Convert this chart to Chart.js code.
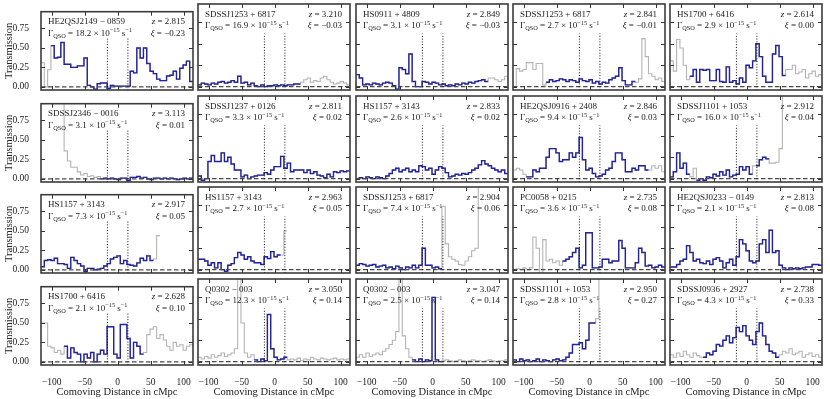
<!DOCTYPE html>
<html>
<head>
<meta charset="utf-8">
<script src="https://cdn.jsdelivr.net/npm/chart.js@4.4.1/dist/chart.umd.min.js"></script>
<style>
  body { margin: 0; background: #fff; }
  #wrap { position: relative; width: 830px; height: 399px; overflow: hidden; }
  #wrap canvas { position: absolute; }
</style>
</head>
<body>
<div id="wrap"></div>
<script>
// axes
const xTicks = [-100, -50, 0, 50, 100];
const yTicks = [0, 0.25, 0.5, 0.75];
const xMin = -116, xMax = 114, yMin = -0.04, yMax = 0.965;
const binStart = -116, binWidth = 5;
const qsoWindow = [-15.5, 15.5];

// panel labels
const qsoNames = ["HE2QSJ2149 − 0859", "SDSSJ1253 + 6817", "HS0911 + 4809", "SDSSJ1253 + 6817", "HS1700 + 6416",
  "SDSSJ2346 − 0016", "SDSSJ1237 + 0126", "HS1157 + 3143", "HE2QSJ0916 + 2408", "SDSSJ1101 + 1053",
  "HS1157 + 3143", "HS1157 + 3143", "SDSSJ1253 + 6817", "PC0058 + 0215", "HE2QSJ0233 − 0149",
  "HS1700 + 6416", "Q0302 − 003", "Q0302 − 003", "SDSSJ1101 + 1053", "SDSSJ0936 + 2927"];
const redshifts = ["2.815", "3.210", "2.849", "2.841", "2.614", "3.113", "2.811", "2.833", "2.846", "2.912",
  "2.917", "2.963", "2.904", "2.735", "2.813", "2.628", "3.050", "3.047", "2.950", "2.738"];
const gammaQso = ["18.2", "16.9", "3.1", "2.7", "2.9", "3.1", "3.3", "2.6", "9.4", "16.0",
  "7.3", "2.7", "7.4", "3.6", "2.1", "2.1", "12.3", "2.5", "2.8", "4.3"];
const xiValues = ["−0.23", "−0.03", "−0.03", "−0.01", "0.00", "0.01", "0.02", "0.02", "0.03", "0.04",
  "0.05", "0.05", "0.06", "0.08", "0.08", "0.10", "0.14", "0.14", "0.27", "0.33"];

// transmission in 5 cMpc bins starting at -116
const trans01 = [0.31, 0.0, 0.22, 0.53, 0.37, 0.38, 0.57, 0.29, 0.29, 0.25, 0.25, 0.27, 0.27, 0.37, 0.02, 0.0, -0.03, 0.04, 0.05, 0.05, -0.02, 0.02, 0.01, 0.01, 0.01, 0.01, 0.01, 0.2, 0.18, 0.5, 0.37, 0.5, 0.3, 0.2, 0.17, 0.1, 0.08, 0.08, 0.14, 0.15, 0.2, 0.1, 0.24, 0.28, 0.33, 0.07];
const trans02 = [0.02, 0.04, 0.03, 0.02, 0.04, 0.03, 0.05, 0.06, 0.04, 0.05, 0.07, 0.05, 0.12, 0.04, 0.05, 0.02, 0.04, 0.01, 0.0, 0.02, 0.0, 0.01, 0.01, 0.02, 0.01, 0.02, 0.01, 0.02, 0.02, 0.03, 0.03, 0.05, 0.08, 0.1, 0.05, 0.07, 0.06, 0.1, 0.12, 0.08, 0.05, 0.03, 0.04, 0.06, 0.04, 0.02];
const trans03 = [0.14, 0.1, 0.02, 0.03, 0.02, 0.04, 0.03, 0.02, 0.04, 0.05, 0.04, 0.01, -0.03, 0.22, 0.2, 0.15, 0.38, 0.06, 0.0, 0.0, 0.06, 0.05, 0.03, 0.05, 0.04, 0.02, 0.03, 0.01, 0.02, 0.01, 0.03, 0.02, 0.04, 0.03, 0.05, 0.04, 0.06, 0.07, 0.08, 0.06, 0.1, 0.1, 0.08, 0.06, 0.08, 0.12];
const trans04 = [0.0, 0.21, 0.18, 0.2, 0.28, 0.28, 0.2, 0.27, 0.27, 0.02, 0.05, 0.08, 0.06, 0.07, 0.09, 0.08, 0.06, 0.08, 0.07, 0.05, 0.09, 0.07, 0.06, 0.08, 0.04, 0.06, 0.03, 0.05, 0.04, 0.08, 0.1, 0.12, 0.22, 0.07, 0.02, 0.02, 0.06, 0.05, 0.09, 0.56, 0.35, 0.15, 0.12, 0.08, 0.1, 0.06];
const trans05 = [0.3, 0.18, 0.55, 0.45, 0.25, 0.08, 0.12, 0.2, 0.05, 0.2, 0.19, 0.2, 0.07, 0.07, 0.2, 0.06, 0.05, 0.23, 0.05, 0.07, 0.03, 0.1, 0.05, 0.25, 0.22, 0.3, 0.5, 0.35, 0.12, 0.05, 0.05, 0.38, 0.48, 0.35, 0.13, 0.2, 0.2, 0.25, 0.15, 0.17, 0.2, 0.1, 0.15, 0.18, 0.12, 0.14];
const trans06 = [1.5, 1.5, 1.5, 1.5, 1.5, 1.5, 1.5, 0.36, 0.23, 0.15, 0.15, 0.09, 0.05, 0.07, 0.03, 0.04, 0.02, 0.03, 0.0, 0.01, 0.0, 0.01, 0.0, -0.01, 0.01, 0.01, -0.02, 0.02, 0.02, 0.03, 0.01, 0.02, 0.0, -0.01, 0.01, 0.01, 0.0, 0.01, 0.0, 0.01, 0.0, -0.01, 0.0, 0.01, 0.0, 0.01];
const trans07 = [0.03, -0.02, 0.0, 0.2, 0.27, 0.2, 0.2, 0.3, 0.2, 0.25, 0.17, 0.1, 0.1, 0.02, 0.04, 0.0, 0.02, 0.03, 0.04, 0.04, 0.07, 0.05, 0.1, 0.14, 0.14, 0.26, 0.12, 0.18, 0.08, 0.1, 0.1, 0.1, 0.07, 0.1, 0.06, 0.08, 0.04, 0.03, 0.01, 0.05, 0.02, 0.08, 0.07, 0.09, 0.08, 0.09];
const trans08 = [0.0, 0.01, 0.0, 0.02, 0.01, 0.0, 0.02, 0.01, 0.0, 0.03, 0.06, 0.1, 0.12, 0.08, 0.1, 0.12, 0.08, 0.1, 0.08, 0.15, 0.14, 0.1, 0.12, 0.05, 0.1, 0.14, 0.12, 0.07, 0.02, 0.03, 0.05, 0.04, 0.06, 0.05, 0.07, 0.1, 0.12, 0.16, 0.21, 0.17, 0.15, 0.12, 0.1, 0.08, 0.1, 0.06];
const trans09 = [0.1, 0.12, 0.1, 0.05, 0.02, 0.02, 0.1, 0.08, 0.12, 0.12, 0.25, 0.35, 0.35, 0.3, 0.2, 0.22, 0.22, 0.3, 0.25, 0.3, 0.48, 0.22, 0.1, 0.12, 0.06, 0.02, 0.03, 0.05, 0.1, 0.12, 0.2, 0.3, 0.3, 0.22, 0.08, 0.08, 0.12, 0.1, 0.15, 0.15, 0.1, 0.1, 0.15, 0.12, 0.15, 0.08];
const trans10 = [0.02, 0.08, 0.3, 0.12, 0.18, 0.05, 0.02, 0.12, -0.02, 0.0, -0.02, 0.02, 0.01, 0.05, 0.03, 0.08, 0.04, 0.1, 0.02, 0.04, 0.05, 0.14, 0.1, 0.14, 0.05, 0.15, 0.15, 0.22, 0.25, 0.23, 0.18, 0.18, 0.19, 0.35, 1.5, 1.5, 1.5, 1.5, 1.5, 1.5, 1.5, 1.5, 1.5, 1.5, 1.5, 1.5];
const trans11 = [0.04, 0.12, 0.13, 0.12, 0.15, 0.08, 0.08, 0.07, 0.02, 0.16, 0.12, 0.08, 0.05, -0.02, 0.02, 0.02, 0.0, 0.01, 0.02, 0.05, 0.08, 0.14, 0.16, 0.18, 0.08, 0.12, 0.07, 0.06, 0.05, 0.09, 0.15, 0.12, 0.18, 0.12, 0.14, 0.44, null, null, null, null, null, null, null, null, null, null];
const trans12 = [0.12, 0.12, 0.1, 0.05, 0.08, 0.02, 0.08, 0.0, -0.02, 0.05, 0.07, 0.14, 0.2, 0.17, 0.12, 0.15, 0.1, 0.08, 0.08, 0.06, 0.15, 0.13, 0.21, 0.15, 0.17, 0.17, 0.45, null, null, null, null, null, null, null, null, null, null, null, null, null, null, null, null, null, null, null];
const trans13 = [0.05, 0.07, 0.06, 0.04, 0.05, 0.06, 0.03, 0.04, 0.05, 0.02, 0.03, 0.01, 0.04, 0.02, 0.0, 0.03, 0.02, 0.05, 0.02, 0.05, 0.25, 0.05, 0.05, 0.02, 0.03, 0.01, 0.74, 0.3, 0.15, 0.12, 0.1, 0.06, 0.05, 0.1, 0.15, 0.22, 0.25, 1.5, 1.5, 1.5, 1.5, 1.5, 1.5, 1.5, 1.5, 1.5];
const trans14 = [0.0, 0.01, 0.0, 0.02, 0.0, 0.02, 0.38, 0.25, -0.05, 0.35, 0.1, 0.12, 0.08, 0.1, 0.05, 0.1, 0.12, 0.15, 0.2, 0.25, 0.02, 0.05, 0.43, 0.43, 0.02, 0.02, 0.03, 0.12, 0.12, 0.08, 0.1, 0.1, 0.34, 0.25, 0.02, 0.02, 0.02, 0.08, 0.25, 0.2, 0.04, 0.05, 0.02, 0.03, 0.05, 0.03];
const trans15 = [0.03, 0.03, 0.06, 0.1, 0.12, 0.28, 0.2, 0.1, 0.12, 0.08, 0.07, 0.1, 0.06, 0.12, 0.14, 0.1, 0.02, 0.08, 0.12, 0.05, 0.15, 0.35, 0.3, 0.22, 0.1, 0.08, 0.1, 0.3, 0.35, 0.2, 0.46, 0.2, 0.22, 0.05, 0.02, 0.0, 0.02, 0.01, 0.02, 0.01, 0.02, 0.03, 0.03, 0.06, 0.06, 0.05];
const trans16 = [0.5, 0.5, 0.2, 0.18, 0.12, 0.15, 0.1, 0.2, 0.05, 0.18, 0.12, 0.1, 0.0, 0.1, 0.05, 0.12, 0.0, 0.1, 0.15, 0.1, 0.45, 0.45, 0.1, 0.05, 0.48, 0.48, 0.3, 0.05, 0.25, 0.2, 0.1, 0.12, 0.35, 0.42, 0.45, 0.3, 0.35, 0.28, 0.2, 0.15, 0.25, 0.2, 0.22, 0.15, 0.2, 0.22];
const trans17 = [0.05, 0.03, 0.06, 0.04, 0.08, 0.05, 0.07, 0.1, 0.06, 0.08, 0.1, 0.15, 1.5, 0.45, 0.1, 0.05, 0.08, 0.02, 0.0, 0.03, 0.01, 0.55, 0.15, 0.05, 0.02, 0.03, 0.05, 0.02, 0.03, 0.02, 0.04, 0.01, 0.03, 0.02, 0.05, 0.03, 0.02, 0.04, 0.03, 0.02, 0.03, 0.04, 0.02, 0.03, 0.02, 0.03];
const trans18 = [0.05, 0.08, 0.05, 0.1, 0.06, 0.08, 0.1, 0.08, 0.12, 0.15, 0.2, 0.25, 0.35, 1.5, 0.3, 0.15, 0.05, 0.02, 0.0, 0.03, 0.0, 0.02, 0.01, 0.75, 0.02, 0.0, 0.01, 0.02, 0.01, 0.0, 0.01, 0.02, 0.01, 0.0, 0.01, 0.02, 0.01, 0.01, 0.0, 0.01, 0.02, 0.01, 0.0, 0.01, 0.01, 0.02];
const trans19 = [0.02, 0.0, 0.03, 0.01, 0.02, 0.0, 0.01, 0.03, 0.0, 0.02, 0.01, 0.0, 0.02, 0.03, 0.01, 0.02, 0.05, 0.1, 0.2, 0.2, 0.22, 0.15, 0.25, 0.45, 0.45, 0.5, 1.5, 1.5, 1.5, 1.5, 1.5, 1.5, 1.5, 1.5, 1.5, 1.5, 1.5, 1.5, 1.5, 1.5, 1.5, 1.5, 1.5, 1.5, 1.5, 1.5];
const trans20 = [0.08, 0.05, 0.1, 0.06, 0.12, 0.08, 0.05, 0.1, 0.07, 0.05, 0.05, 0.1, 0.08, 0.12, 0.2, 0.18, 0.25, 0.3, 0.22, 0.28, 0.4, 0.35, 0.42, 0.3, 0.25, 0.2, 0.35, 0.45, 0.3, 0.2, 0.12, 0.1, 0.05, 0.08, 0.12, 0.1, 0.15, 0.08, 0.1, 0.12, 0.05, 0.08, 0.1, 0.06, 0.08, 0.05];

// bins drawn in blue (inside the used window), the rest is grey
const blue01 = [[3, 45]], blue02 = [[0, 30]], blue03 = [[0, 39]], blue04 = [[10, 36]], blue05 = [[6, 34]];
const blue06 = [[18, 45]], blue07 = [[0, 45]], blue08 = [[0, 45]], blue09 = [[4, 40]], blue10 = [[0, 5], [8, 24], [26, 29]];
const blue11 = [[0, 33]], blue12 = [[0, 24]], blue13 = [[0, 25]], blue14 = [[15, 45]], blue15 = [[0, 45]];
const blue16 = [[7, 30]], blue17 = [[17, 26]], blue18 = [[17, 25]], blue19 = [[0, 24]], blue20 = [[10, 32]];

const allTrans = [trans01, trans02, trans03, trans04, trans05, trans06, trans07, trans08, trans09, trans10,
  trans11, trans12, trans13, trans14, trans15, trans16, trans17, trans18, trans19, trans20];
const allBlue = [blue01, blue02, blue03, blue04, blue05, blue06, blue07, blue08, blue09, blue10,
  blue11, blue12, blue13, blue14, blue15, blue16, blue17, blue18, blue19, blue20];

// layout
const colLeft = [41, 198, 356, 513, 670];
const rowTop = [4, 96, 187, 279];
const PW = 152, PH = 86, LM = 41, BM = 34, PT = 2, PR = 3;
const SERIF = "'Liberation Serif', 'DejaVu Serif', serif";
const TXT = 9;

function stepPoints(vals, keep) {
  const pts = [];
  vals.forEach((v, i) => {
    const x0 = binStart + i * binWidth;
    if (v === null || !keep(i)) { pts.push({x: x0, y: null}); return; }
    pts.push({x: x0, y: v}, {x: x0 + binWidth, y: v});
  });
  return pts;
}

function drawRuns(ctx, x, y, parts, align) {
  const fontOf = p => (p[3] ? 'italic ' : '') + p[1] + 'px ' + SERIF;
  let total = 0;
  parts.forEach(p => { ctx.font = fontOf(p); total += ctx.measureText(p[0]).width; });
  let cx = align === 'right' ? x - total : x;
  parts.forEach(p => {
    ctx.font = fontOf(p);
    ctx.fillText(p[0], cx, y + (p[2] || 0));
    cx += ctx.measureText(p[0]).width;
  });
}

const panelDeco = {
  id: 'panelDeco',
  afterDatasetsDraw(chart, args, opts) {
    const {ctx, chartArea: a} = chart;
    const x = chart.scales.x, y = chart.scales.y;
    ctx.save();
    // inward ticks on all sides
    ctx.strokeStyle = '#333';
    ctx.lineWidth = 1;
    ctx.beginPath();
    xTicks.forEach(v => {
      const px = Math.round(x.getPixelForValue(v)) + 0.5;
      ctx.moveTo(px, a.bottom); ctx.lineTo(px, a.bottom - 4);
      ctx.moveTo(px, a.top); ctx.lineTo(px, a.top + 4);
    });
    yTicks.forEach(v => {
      const py = Math.round(y.getPixelForValue(v)) + 0.5;
      ctx.moveTo(a.left, py); ctx.lineTo(a.left + 4, py);
      ctx.moveTo(a.right, py); ctx.lineTo(a.right - 4, py);
    });
    ctx.stroke();
    ctx.lineWidth = 1.6;
    ctx.strokeStyle = '#3c3c3c';
    ctx.strokeRect(a.left, a.top, a.right - a.left, a.bottom - a.top);

    // labels
    const i = opts.idx;
    ctx.fillStyle = '#222';
    ctx.textAlign = 'left';
    ctx.textBaseline = 'alphabetic';
    const l1 = a.top + 12.7, l2 = a.top + 24.3;
    drawRuns(ctx, a.left + 7, l1, [[qsoNames[i], TXT]], 'left');
    drawRuns(ctx, a.right - 8, l1, [['z', TXT, 0, true], [' = ' + redshifts[i], TXT]], 'right');
    drawRuns(ctx, a.left + 7, l2, [['Γ', TXT], ['QSO', 6.3, 1.8], [' = ' + gammaQso[i] + ' × 10', TXT],
      ['−15', 6.3, -3.6], [' s', TXT], ['−1', 6.3, -3.6]], 'left');
    drawRuns(ctx, a.right - 8, l2, [['ξ', TXT, 0, true], [' = ' + xiValues[i], TXT]], 'right');
    ctx.restore();
  }
};

const wrap = document.getElementById('wrap');
allTrans.forEach((vals, i) => {
  const row = Math.floor(i / 5), col = i % 5;
  const leftCol = col === 0, bottomRow = row === 3;
  const cv = document.createElement('canvas');
  cv.width = LM + PW + PR;
  cv.height = PT + PH + BM;
  cv.style.left = (colLeft[col] - LM) + 'px';
  cv.style.top = (rowTop[row] - PT) + 'px';
  wrap.appendChild(cv);

  const ranges = allBlue[i];
  const inBlue = k => ranges.some(r => k >= r[0] && k <= r[1]);

  new Chart(cv, {
    type: 'line',
    data: {
      datasets: [
        {data: stepPoints(vals, () => true), borderColor: '#b4b4b4', borderWidth: 1.1, order: 4},
        {data: stepPoints(vals, inBlue), borderColor: '#23239b', borderWidth: 1.4, order: 3},
        {data: [{x: xMin, y: 0}, {x: xMax, y: 0}], borderColor: '#4a4a4a', borderDash: [4.5, 2.5], borderWidth: 1.4, order: 2},
        {data: [{x: qsoWindow[0], y: yMin}, {x: qsoWindow[0], y: 0.62}], borderColor: '#111', borderDash: [1, 1.8], borderWidth: 1, order: 1},
        {data: [{x: qsoWindow[1], y: yMin}, {x: qsoWindow[1], y: 0.62}], borderColor: '#111', borderDash: [1, 1.8], borderWidth: 1, order: 1}
      ]
    },
    options: {
      responsive: false,
      animation: false,
      devicePixelRatio: 1,
      events: [],
      layout: {padding: {top: PT, right: PR, left: 0, bottom: 0}},
      elements: {point: {radius: 0}, line: {tension: 0, fill: false}},
      plugins: {legend: {display: false}, tooltip: {enabled: false}, panelDeco: {idx: i}},
      scales: {
        x: {
          type: 'linear', min: xMin, max: xMax,
          grid: {display: false}, border: {display: false},
          afterFit: s => { s.height = BM; },
          afterBuildTicks: s => { s.ticks = xTicks.map(v => ({value: v})); },
          ticks: {display: bottomRow, padding: 4, autoSkip: false, maxRotation: 0, color: '#222',
            font: {family: SERIF, size: 9.5},
            callback: v => v < 0 ? '\u2212' + Math.abs(v) : String(v)},
          title: {display: bottomRow, text: 'Comoving Distance in cMpc', color: '#222',
            font: {family: SERIF, size: 10.5}, padding: {top: 3, bottom: 0}}
        },
        y: {
          min: yMin, max: yMax,
          grid: {display: false}, border: {display: false},
          afterFit: s => { s.width = LM; },
          afterBuildTicks: s => { s.ticks = yTicks.map(v => ({value: v})); },
          ticks: {display: leftCol, padding: 4, autoSkip: false, color: '#222',
            font: {family: SERIF, size: 9.5},
            callback: v => v.toFixed(2)},
          title: {display: leftCol, text: 'Transmission', color: '#222',
            font: {family: SERIF, size: 10.5}, padding: {top: 3, bottom: 0}}
        }
      }
    },
    plugins: [panelDeco]
  });
});
</script>
</body>
</html>
